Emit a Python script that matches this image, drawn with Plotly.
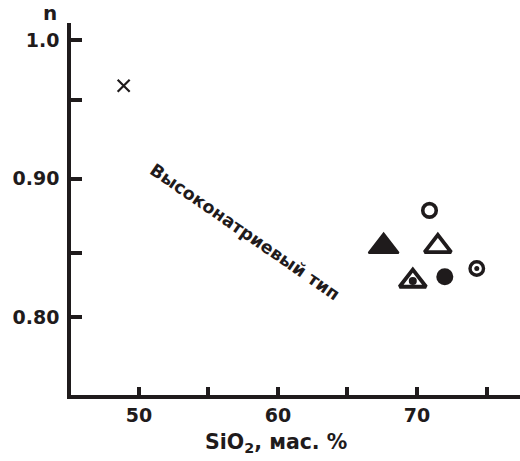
import plotly.graph_objects as go

# data
x_cross = [48.9]
y_cross = [0.967]

x_tri_fill = [67.6]
y_tri_fill = [0.851]

x_tri_open = [71.5]
y_tri_open = [0.851]

x_tri_dot = [69.7]
y_tri_dot = [0.826]

x_circ_open = [70.9]
y_circ_open = [0.877]

x_circ_fill = [72.0]
y_circ_fill = [0.829]

x_circ_dot = [74.3]
y_circ_dot = [0.835]

x_tickvals = [50, 55, 60, 65, 70, 75]
x_ticktext = ["50", "", "60", "", "70", ""]
y_tickvals = [0.80, 0.846, 0.90, 0.957, 1.0]
y_ticktext = ["0.80", "", "0.90", "", "1.0"]

INK = "#1f1b1c"
FONT = "DejaVu Sans"

fig = go.Figure()

def add(x, y, symbol, size, color, lw, lc=INK):
    fig.add_trace(go.Scatter(
        x=x, y=y, mode="markers", showlegend=False, hoverinfo="skip",
        marker=dict(symbol=symbol, size=size, color=color,
                    line=dict(width=lw, color=lc))))

add(x_cross, y_cross, "x-thin", 12, INK, 2.2)
add(x_tri_fill, y_tri_fill, "triangle-up", 26, INK, 2)
add(x_tri_open, y_tri_open, "triangle-up", 23, "white", 3.8)
add(x_tri_dot, y_tri_dot, "triangle-up", 23, "white", 3.8)
add(x_tri_dot, y_tri_dot, "circle", 8, INK, 0)
add(x_circ_open, y_circ_open, "circle", 13.5, "white", 3.6)
add(x_circ_fill, y_circ_fill, "circle", 17, INK, 0)
add(x_circ_dot, y_circ_dot, "circle", 13.5, "white", 3.4)
add(x_circ_dot, y_circ_dot, "circle", 5, INK, 0)

axis_common = dict(
    showline=True, linewidth=3.5, linecolor=INK,
    ticks="inside", tickwidth=3.5, tickcolor=INK,
    showgrid=False, zeroline=False,
    tickfont=dict(family=FONT, size=19, color=INK, weight="bold"),
)

fig.update_xaxes(range=[45.11, 77.41], tickmode="array",
                 tickvals=x_tickvals, ticktext=x_ticktext, ticklen=8,
                 **axis_common)
fig.update_yaxes(range=[0.7437, 1.0123], tickmode="array",
                 tickvals=y_tickvals, ticktext=y_ticktext, ticklen=11,
                 ticklabelstandoff=4, **axis_common)

PW, PH, L, T = 449, 372, 71, 23

def px(xp, yp):
    return (xp - L) / PW, 1 - (yp - T) / PH

ax, ay = px(245, 232)
fig.add_annotation(
    text="Высоконатриевый тип", x=ax, y=ay, xref="paper", yref="paper",
    xanchor="center", yanchor="middle",
    showarrow=False, textangle=34.6,
    font=dict(family=FONT, size=17.5, color=INK, weight="bold"))

nx, ny = px(50, 13)
fig.add_annotation(
    text="n", x=nx, y=ny, xref="paper", yref="paper", showarrow=False,
    xanchor="center", yanchor="middle",
    font=dict(family=FONT, size=20, color=INK, weight="bold"))

tx, ty = px(276, 443)
fig.add_annotation(
    text="SiO<sub>2</sub>, мас. %", x=tx, y=ty, xref="paper", yref="paper",
    xanchor="center", yanchor="middle", showarrow=False,
    font=dict(family=FONT, size=20.5, color=INK, weight="bold"))

fig.update_layout(
    width=520, height=461,
    margin=dict(l=L, r=0, t=T, b=66),
    paper_bgcolor="white", plot_bgcolor="white",
)

fig.write_html("out.html")
